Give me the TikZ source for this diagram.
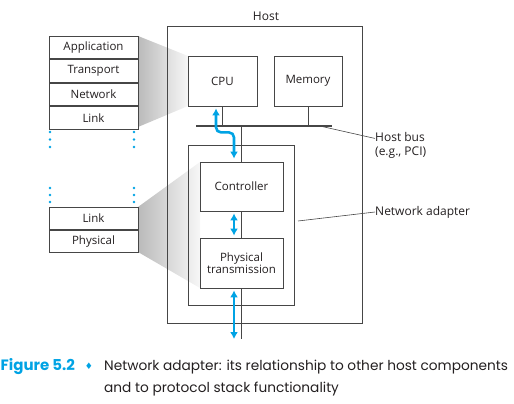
\documentclass[tikz,border=0pt]{standalone}
\usepackage{fontspec}
\setmainfont{Open Sans}
\newfontfamily\capfont{Poppins}
\newfontfamily\symfont{DejaVu Sans}
\usetikzlibrary{arrows.meta,calc}
\definecolor{kblue}{RGB}{0,163,228}
\definecolor{kline}{RGB}{70,70,70}
\definecolor{ktext}{RGB}{35,31,32}
\begin{document}
\begin{tikzpicture}[x=1pt,y=-1pt,
  box/.style={draw=kline,line width=0.8pt,fill=white,inner sep=0pt,align=center,text=ktext,font=\fontsize{11.5}{13}\selectfont},
  layer/.style={box,minimum width=89pt},
  frame/.style={draw=kline,line width=0.8pt,inner sep=0pt},
  wire/.style={draw=kline,line width=1pt},
  leader/.style={draw=kline,line width=0.6pt},
  barrow/.style={draw=kblue,line width=2.6pt,{Latex[length=7pt,width=8pt]}-{Latex[length=7pt,width=8pt]}},
  wedge/.style={left color=black!27,right color=black!3},
  dot/.style={fill=kblue,draw=none},
  lbl/.style={font=\fontsize{12}{14.5}\selectfont,text=ktext,inner sep=0pt}
]
\useasboundingbox (0,0) rectangle (514,404);
% shaded wedges
\shade[wedge] (138,36) -- (188,56) -- (188,106) -- (138,127) -- cycle;
\shade[wedge] (138,207) -- (200,162) -- (200,288) -- (138,252) -- cycle;
% host and adapter frames
\node[frame,minimum width=195pt,minimum height=297pt] (host) at (264.5,174.5) {};
\node[lbl,anchor=south] (hostlbl) at (266,21) {Host};
\node[frame,minimum width=106pt,minimum height=160pt] (adapter) at (241,225) {};
% protocol stack
\node[layer,minimum height=22.75pt] (app) at (93.5,47.4) {Application};
\node[layer,minimum height=22.75pt,anchor=north] (trans) at (app.south) {Transport};
\node[layer,minimum height=22.75pt,anchor=north] (net) at (trans.south) {Network};
\node[layer,minimum height=22.75pt,anchor=north] (link1) at (net.south) {Link};
\node[layer,minimum height=22.5pt] (link2) at (93.5,218.25) {Link};
\node[layer,minimum height=22.5pt,anchor=north] (phys) at (link2.south) {Physical};
% dots
\foreach \y in {132,139.5,147,188,195,202}{
  \fill[dot] (50,\y) circle (1.3pt);
  \fill[dot] (134,\y) circle (1.3pt);
}
% bus and line
\coordinate (busL) at (196,126);
\coordinate (busR) at (332,126);
\coordinate (busT) at (241.5,126);
\coordinate (bottom) at (241.5,339);
\coordinate (bottomA) at (234,339);
\coordinate (busleader) at (322,126.5);
\draw[wire,line width=1.4pt] (busL) -- (busR);
% boxes
\node[box,minimum width=69pt,minimum height=50pt] (cpu) at (222.5,81) {CPU};
\node[box,minimum width=68pt,minimum height=50pt] (mem) at (308,81) {Memory};
\node[box,minimum width=83pt,minimum height=49pt] (ctrl) at (241.5,186.5) {Controller};
\node[box,minimum width=83pt,minimum height=50pt] (ptx) at (241.5,263) {Physical\\[-1pt]transmission};
\draw[wire] (cpu.south) -- (cpu.south |- busL);
\draw[wire] (mem.south) -- (mem.south |- busL);
\draw[wire] (busT) -- (ctrl.north);
\draw[wire] (ctrl.south) -- (ptx.north);
\draw[wire] (ptx.south) -- (bottom);
% blue arrows
\draw[barrow,rounded corners=5pt] ([xshift=-6.5pt,yshift=-2pt]cpu.south) -- ++(0,24) -- ++(18,0) -- ([xshift=-7.5pt,yshift=3pt]ctrl.north);
\draw[barrow] ([xshift=-7.5pt,yshift=-2pt]ctrl.south) -- ([xshift=-7.5pt,yshift=2pt]ptx.north);
\draw[barrow] ([xshift=-7.5pt,yshift=-2pt]ptx.south) -- (bottomA);
% labels
\node[lbl,anchor=north west,align=left] (buslbl) at (375,132) {Host bus\\(e.g., PCI)};
\draw[leader] (busleader) -- ([yshift=7pt]buslbl.west);
\node[lbl,anchor=west] (adlbl) at (375,212) {Network adapter};
\coordinate (adleader) at (298,221);
\draw[leader] (adleader) -- (adlbl.west);
% caption
\node[anchor=base west,inner sep=0pt,font=\capfont\fontsize{15}{17}\selectfont\bfseries,text=kblue] (figno) at (0.5,370) {Figure 5.2};
\node[anchor=base,inner sep=0pt,font=\symfont\fontsize{9}{10}\selectfont,text=kblue] (diam) at (89,369) {♦};
\node[anchor=base west,inner sep=0pt,text=ktext,font=\capfont\fontsize{13.7}{16}\selectfont] (cap1) at (104,370) {Network adapter: its relationship to other host components};
\node[anchor=base west,inner sep=0pt,text=ktext,font=\capfont\fontsize{13.7}{16}\selectfont] (cap2) at (104,392) {and to protocol stack functionality};
\end{tikzpicture}
\end{document}
